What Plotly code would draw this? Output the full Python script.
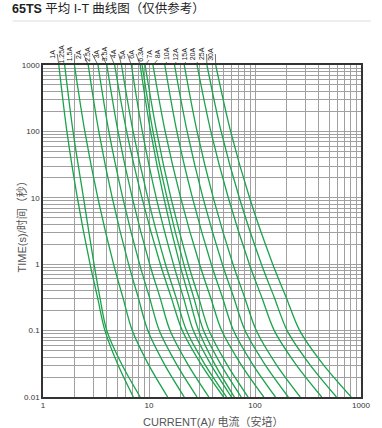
import math
import plotly.graph_objects as go

# ---- data ----
time_s = [1000, 100, 10, 1, 0.316, 0.1, 0.0316, 0.01]

labels = ["1A", "1.25A", "1.5A", "2A", "2.5A", "3A", "3.5A", "4A", "5A", "6A",
          "6.3A", "7A", "8A", "10A", "12A", "15A", "20A", "25A", "30A"]

c_1A = [1.41, 1.68, 2.11, 2.78, 3.27, 3.84, 5.05, 7.11]
c_1_25A = [1.60, 1.92, 2.41, 3.03, 3.44, 4.00, 5.50, 8.25]
c_1_5A = [1.98, 2.48, 3.29, 4.63, 5.67, 6.95, 9.81, 15.0]
c_2A = [2.67, 3.36, 4.50, 6.42, 7.91, 9.75, 13.9, 21.5]
c_2_5A = [3.30, 4.18, 5.66, 8.15, 10.1, 12.5, 18.1, 28.4]
c_3A = [4.00, 5.10, 6.96, 10.15, 12.7, 15.8, 23.1, 36.7]
c_3_5A = [4.74, 6.15, 8.58, 12.8, 16.2, 20.6, 30.8, 50.5]
c_4A = [5.50, 7.08, 9.75, 14.3, 18.0, 22.6, 33.4, 53.9]
c_5A = [6.81, 8.65, 11.7, 17.0, 21.1, 26.2, 38.0, 60.0]
c_6A = [8.25, 10.35, 13.8, 19.5, 23.9, 29.4, 41.6, 63.9]
c_6_3A = [8.61, 10.9, 14.8, 21.3, 26.4, 32.7, 47.2, 74.2]
c_7A = [9.18, 11.8, 16.1, 23.5, 29.4, 36.8, 53.9, 86.1]
c_8A = [10.9, 14.2, 19.9, 30.0, 38.1, 48.5, 73.1, 121]
c_10A = [14.1, 18.3, 25.7, 38.7, 49.3, 62.7, 94.4, 156]
c_12A = [17.4, 22.9, 32.3, 49.2, 63.0, 80.6, 123, 206]
c_15A = [21.5, 28.4, 40.4, 62.0, 79.8, 103, 157, 267]
c_20A = [28.4, 38.3, 56.0, 88.5, 116, 152, 241, 426]
c_25A = [35.2, 47.9, 71.1, 115, 152, 201, 325, 587]
c_30A = [42.6, 58.9, 88.9, 147, 197, 264, 435, 808]

curves = [c_1A, c_1_25A, c_1_5A, c_2A, c_2_5A, c_3A, c_3_5A, c_4A, c_5A, c_6A,
          c_6_3A, c_7A, c_8A, c_10A, c_12A, c_15A, c_20A, c_25A, c_30A]

x_tick_vals = [1, 10, 100, 1000]
x_tick_text = ["1", "10", "100", "1000"]
y_tick_vals = [0.01, 0.1, 1, 10, 100, 1000]
y_tick_text = ["0.01", "0.1", "1", "10", "100", "1000"]

# ---- layout constants ----
W, H = 382, 428
ML, MR, MT, MB = 43, 15, 65, 31
PW = W - ML - MR
PH = H - MT - MB
DEC_W = PW / 3.0
FONT = "Liberation Sans, Arial, Noto Sans CJK SC, sans-serif"
GREEN = "#1ba34b"

fig = go.Figure()
for name, cur in zip(labels, curves):
    fig.add_trace(go.Scatter(
        x=cur, y=time_s, mode="lines", name=name,
        line=dict(color=GREEN, width=1.3, shape="spline", smoothing=0.9),
        showlegend=False, hoverinfo="skip"))

annotations = []
LABEL_X0, LABEL_STEP = 57.5, 8.95
for i, (name, cur) in enumerate(zip(labels, curves)):
    top_px = ML + DEC_W * math.log10(cur[0])
    lab_px = LABEL_X0 + LABEL_STEP * i
    annotations.append(dict(
        x=math.log10(cur[0]), y=3, xref="x", yref="y",
        text=name, textangle=-90, showarrow=True,
        arrowhead=0, arrowwidth=0.7, arrowcolor="#333", standoff=0,
        ax=lab_px - top_px, ay=-11, xanchor="center", yanchor="bottom",
        font=dict(family=FONT, size=7, color="#222")))

annotations.append(dict(
    xref="paper", yref="paper", x=(217 - ML) / PW, y=-(421 - (MT + PH)) / PH,
    text="CURRENT(A)/ 电流（安培）", showarrow=False, xanchor="center", yanchor="middle",
    font=dict(family=FONT, size=11, color="#555")))
annotations.append(dict(
    xref="paper", yref="paper", x=(21 - ML) / PW, y=1 - (224 - MT) / PH,
    text="TIME(s)/时间（秒）", textangle=-90, showarrow=False,
    xanchor="center", yanchor="middle",
    font=dict(family=FONT, size=11, color="#555")))

shapes = [dict(type="line", xref="paper", yref="paper",
               x0=(12 - ML) / PW, x1=(377 - ML) / PW,
               y0=1 + (MT - 21) / PH, y1=1 + (MT - 21) / PH,
               line=dict(color="#dddddd", width=1))]

axis_common = dict(
    type="log", showline=True, mirror=True, linecolor="#333", linewidth=1.5,
    showgrid=True, gridcolor="#a0a0a0", gridwidth=1, ticks="", zeroline=False,
    tickfont=dict(family=FONT, size=8, color="#333"),
    minor=dict(dtick="D1", showgrid=True, gridcolor="#a0a0a0", gridwidth=1, ticks=""),
)

fig.update_layout(
    width=W, height=H,
    margin=dict(l=ML, r=MR, t=MT, b=MB),
    paper_bgcolor="white", plot_bgcolor="white",
    title=dict(text="<b>65TS</b> 平均 I-T 曲线图（仅供参考）",
               x=12 / W, xanchor="left", y=1 - 9 / H, yanchor="middle",
               font=dict(family=FONT, size=12.5, color="#222")),
    xaxis=dict(range=[0, 3], tickvals=x_tick_vals, ticktext=x_tick_text, **axis_common),
    yaxis=dict(range=[-2, 3], tickvals=y_tick_vals, ticktext=y_tick_text, **axis_common),
    annotations=annotations, shapes=shapes,
)

fig.write_html("out.html", config={"displayModeBar": False},
               post_script="document.body.style.margin='0';document.body.style.overflow='hidden';")
